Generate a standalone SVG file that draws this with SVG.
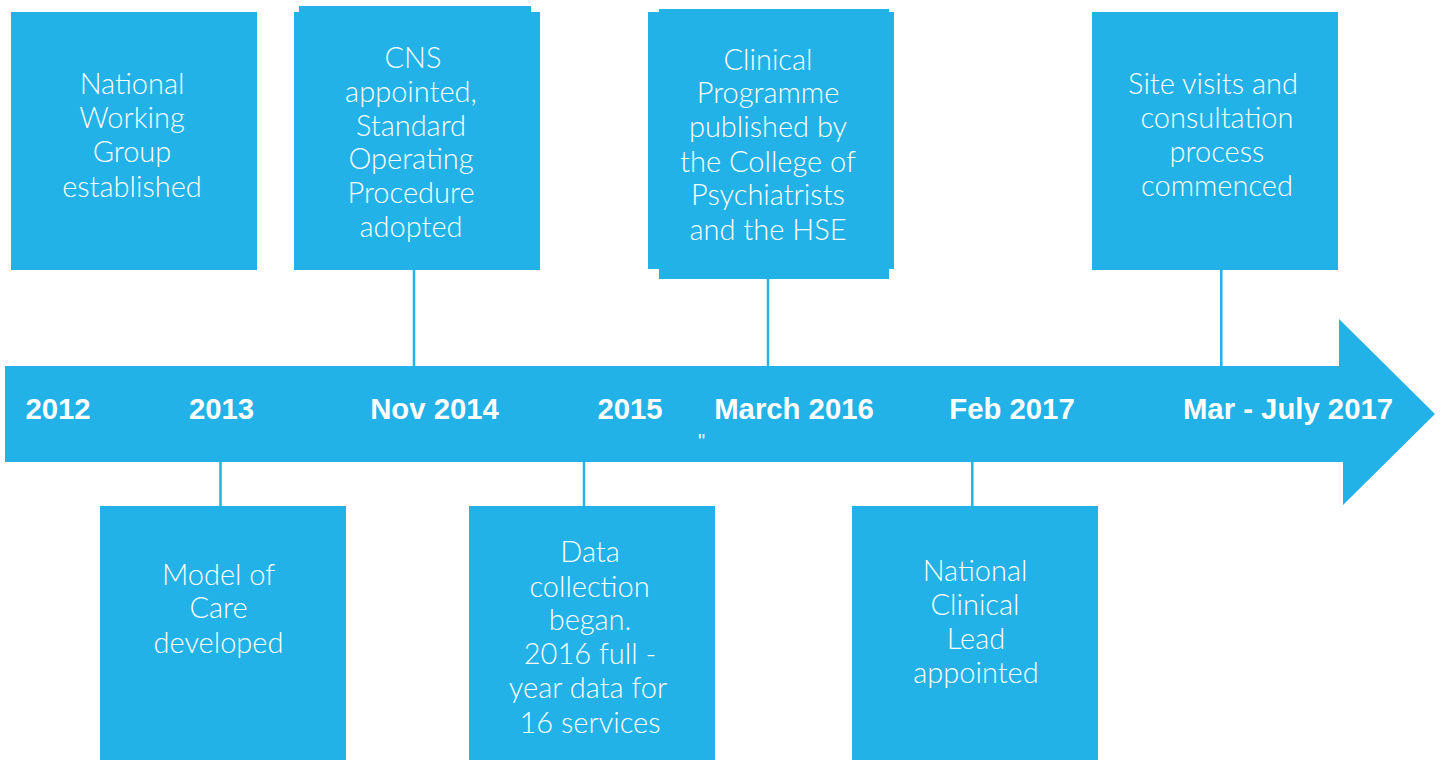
<svg xmlns="http://www.w3.org/2000/svg" width="1442" height="760" viewBox="0 0 1442 760">
<style>
.box{fill:#22B2E7}
.lbl{font-family:Lato,Roboto,"Liberation Sans",sans-serif;font-weight:300;font-size:29px;fill:#FFFFFF;text-anchor:middle}
.date{font-family:"Liberation Sans",Arial,sans-serif;font-weight:bold;font-size:29.3px;fill:#FFFFFF;text-anchor:middle}
.conn{stroke:#22B2E7;stroke-width:2.5;fill:none}
</style>
<rect width="1442" height="760" fill="#FFFFFF"/>
<g id="timeline">
<polygon class="box" points="5,366 1339,366 1339,319 1435,414 1343,505 1343,462 5,462"/>
<text class="date" x="58" y="419">2012</text>
<text class="date" x="221.5" y="419">2013</text>
<text class="date" x="434.5" y="419">Nov 2014</text>
<text class="date" x="630" y="419">2015</text>
<text class="date" x="794" y="419">March 2016</text>
<text class="date" x="1012" y="419">Feb 2017</text>
<text class="date" x="1288" y="419">Mar - July 2017</text>
<text x="701.5" y="448" style="font-family:'Liberation Sans',Arial,sans-serif;font-size:20px;fill:#FFFFFF;text-anchor:middle">"</text>
</g>
<g id="connectors">
<line class="conn" x1="414" y1="270" x2="414" y2="366"/>
<line class="conn" x1="768" y1="279" x2="768" y2="366"/>
<line class="conn" x1="1221.3" y1="270" x2="1221.3" y2="366"/>
<line class="conn" x1="220.5" y1="462" x2="220.5" y2="506"/>
<line class="conn" x1="584" y1="462" x2="584" y2="506"/>
<line class="conn" x1="972.3" y1="462" x2="972.3" y2="506"/>
</g>
<g id="n2012">
<rect class="box" x="11" y="12" width="246" height="258"/>
<text class="lbl" x="132"><tspan x="132" y="94">National</tspan><tspan x="132" y="128.3">Working</tspan><tspan x="132" y="162.3">Group</tspan><tspan x="132" y="196.7">established</tspan></text>
</g>
<g id="n2014">
<rect class="box" x="294" y="12" width="246" height="258"/>
<rect class="box" x="299" y="6" width="232" height="20"/>
<text class="lbl" x="411"><tspan x="413" y="68.3">CNS</tspan><tspan x="411" y="101.7">appointed,</tspan><tspan x="411" y="135.7">Standard</tspan><tspan x="411" y="169.3">Operating</tspan><tspan x="411" y="202.7">Procedure</tspan><tspan x="411" y="236.7">adopted</tspan></text>
</g>
<g id="n2016">
<rect class="box" x="648" y="12" width="246" height="257"/>
<rect class="box" x="659" y="9" width="230" height="270"/>
<text class="lbl" x="768"><tspan x="768" y="70">Clinical</tspan><tspan x="768" y="103.3">Programme</tspan><tspan x="768" y="137.3">published by</tspan><tspan x="768" y="171.7">the College of</tspan><tspan x="768" y="205">Psychiatrists</tspan><tspan x="768" y="240">and the HSE</tspan></text>
</g>
<g id="n2017b">
<rect class="box" x="1092" y="12" width="246" height="258"/>
<text class="lbl" x="1216"><tspan x="1213" y="94">Site visits and</tspan><tspan x="1217" y="128.3">consultation</tspan><tspan x="1217" y="162.3">process</tspan><tspan x="1217" y="195.7">commenced</tspan></text>
</g>
<g id="n2013">
<rect class="box" x="100" y="506" width="246" height="254"/>
<text class="lbl" x="218.5"><tspan x="218.5" y="585">Model of</tspan><tspan x="218.5" y="618.3">Care</tspan><tspan x="218.5" y="652.7">developed</tspan></text>
</g>
<g id="n2015">
<rect class="box" x="469" y="506" width="246" height="254"/>
<text class="lbl" x="589"><tspan x="590" y="561.7">Data</tspan><tspan x="589.5" y="596.7">collection</tspan><tspan x="590" y="630">began.</tspan><tspan x="590" y="664">2016 full -</tspan><tspan x="588" y="698.3">year data for</tspan><tspan x="590" y="732.7">16 services</tspan></text>
</g>
<g id="n2017a">
<rect class="box" x="852" y="506" width="246" height="254"/>
<text class="lbl" x="975"><tspan x="975" y="580.7">National</tspan><tspan x="975" y="615">Clinical</tspan><tspan x="976" y="649.3">Lead</tspan><tspan x="976" y="682.7">appointed</tspan></text>
</g>
</svg>
